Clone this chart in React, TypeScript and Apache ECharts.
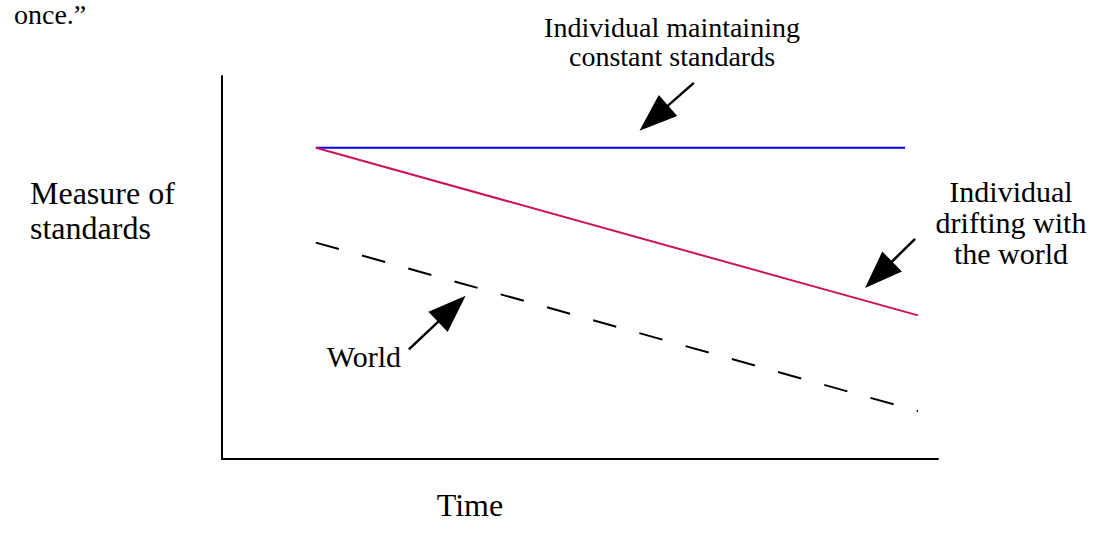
import React, { useEffect, useRef } from "react";
import * as echarts from "echarts";

// Time positions (arbitrary 0-100 scale)
const timeStart = 13.1;
const timeEndConstant = 95.4;
const timeEnd = 97.2;

// Standards values (arbitrary 0-100 scale)
const constantStandards = [81.25, 81.25];
const driftingStandards = [81.25, 37.5];
const worldStandards = [56.5, 12.5];

// Annotation arrows: [tailX, tailY, headX, headY]
const arrowConstant = [65.9, 98.2, 60.3, 89.0];
const arrowDrifting = [96.8, 57.5, 91.7, 48.1];
const arrowWorld = [26.1, 28.6, 32.1, 39.2];

const FONT = "'Liberation Serif', 'Times New Roman', serif";

export default function App() {
  const ref = useRef<HTMLDivElement>(null);
  useEffect(() => {
    if (!ref.current) return;
    const chart = echarts.init(ref.current, null, { renderer: "svg" });
    const arrow = (a: number[]) => [
      { coord: [a[0], a[1]], symbol: "none" },
      { coord: [a[2], a[3]], symbol: "triangle" },
    ];
    chart.setOption({
      animation: false,
      backgroundColor: "#ffffff",
      grid: { left: 222, top: 76, width: 716, height: 383, containLabel: false },
      xAxis: {
        type: "value",
        min: 0,
        max: 100,
        axisLine: { show: true, onZero: false, lineStyle: { color: "#000", width: 2 } },
        axisTick: { show: false },
        axisLabel: { show: false },
        splitLine: { show: false },
      },
      yAxis: {
        type: "value",
        min: 0,
        max: 100,
        axisLine: { show: true, onZero: false, lineStyle: { color: "#000", width: 2 } },
        axisTick: { show: false },
        axisLabel: { show: false },
        splitLine: { show: false },
      },
      series: [
        {
          type: "line",
          name: "constant",
          data: [
            [timeStart, constantStandards[0]],
            [timeEndConstant, constantStandards[1]],
          ],
          symbol: "none",
          lineStyle: { color: "#0000ff", width: 2 },
          silent: true,
        },
        {
          type: "line",
          name: "drifting",
          data: [
            [timeStart, driftingStandards[0]],
            [timeEnd, driftingStandards[1]],
          ],
          symbol: "none",
          lineStyle: { color: "#d0105a", width: 2 },
          silent: true,
        },
        {
          type: "line",
          name: "world",
          data: [
            [timeStart, worldStandards[0]],
            [timeEnd, worldStandards[1]],
          ],
          symbol: "none",
          lineStyle: { color: "#000000", width: 2, type: [24, 24] },
          silent: true,
          markLine: {
            silent: true,
            animation: false,
            symbolSize: [28, 38],
            label: { show: false },
            lineStyle: { color: "#000", width: 2.5, type: "solid" },
            itemStyle: { color: "#000" },
            emphasis: { disabled: true },
            data: [arrow(arrowConstant), arrow(arrowDrifting), arrow(arrowWorld)],
          },
        },
      ],
      graphic: [
        {
          type: "text",
          left: 14,
          top: 0,
          style: { text: "once.\u201D", font: `28px ${FONT}`, lineHeight: 18, fill: "#000" },
        },
        {
          type: "text",
          x: 672,
          y: 42,
          style: {
            text: "Individual maintaining\nconstant standards",
            font: `28px ${FONT}`,
            lineHeight: 29,
            fill: "#000",
            align: "center",
            verticalAlign: "middle",
          },
        },
        {
          type: "text",
          x: 1011,
          y: 222,
          style: {
            text: "Individual\ndrifting with\nthe world",
            font: `30px ${FONT}`,
            lineHeight: 31,
            fill: "#000",
            align: "center",
            verticalAlign: "middle",
          },
        },
        {
          type: "text",
          x: 30,
          y: 210,
          style: {
            text: "Measure of\nstandards",
            font: `32px ${FONT}`,
            lineHeight: 35,
            fill: "#000",
            align: "left",
            verticalAlign: "middle",
          },
        },
        {
          type: "text",
          x: 470,
          y: 505,
          style: {
            text: "Time",
            font: `32px ${FONT}`,
            fill: "#000",
            align: "center",
            verticalAlign: "middle",
          },
        },
        {
          type: "text",
          x: 401,
          y: 356,
          style: {
            text: "World",
            font: `30px ${FONT}`,
            fill: "#000",
            align: "right",
            verticalAlign: "middle",
          },
        },
      ],
    });
    return () => chart.dispose();
  }, []);
  return (
    <div
      ref={ref}
      style={{ position: "fixed", left: 0, top: 0, width: 1097, height: 540 }}
    />
  );
}
